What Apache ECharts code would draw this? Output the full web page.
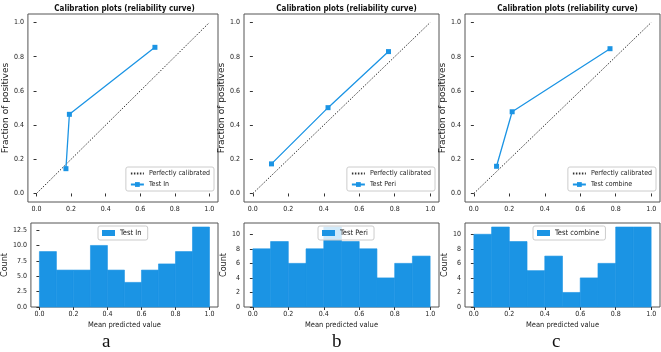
<!DOCTYPE html>
<html>
<head>
<meta charset="utf-8">
<script src="https://cdn.jsdelivr.net/npm/echarts@6/dist/echarts.min.js"></script>
<style>
  html, body { margin: 0; padding: 0; background: #fff; }
  #main { width: 661px; height: 352px; }
</style>
</head>
<body>
<div id="main"></div>
<script>
// calibration curves (mean predicted value, fraction of positives)
var curveNames = ['Test In', 'Test Peri', 'Test combine'];
var predIn = [0.17, 0.19, 0.685];
var fracIn = [0.145, 0.463, 0.855];
var predPeri = [0.105, 0.424, 0.765];
var fracPeri = [0.173, 0.502, 0.83];
var predComb = [0.128, 0.216, 0.768];
var fracComb = [0.159, 0.478, 0.847];
var diagX = [0, 1];

// histograms of predicted values
var binEdges = [0, 0.1, 0.2, 0.3, 0.4, 0.5, 0.6, 0.7, 0.8, 0.9, 1.0];
var countIn = [9, 6, 6, 10, 6, 4, 6, 7, 9, 13];
var countPeri = [8, 9, 6, 8, 11, 9, 8, 4, 6, 7];
var countComb = [10, 11, 9, 5, 7, 2, 4, 6, 11, 11];

var tickVals = [0, 0.2, 0.4, 0.6, 0.8, 1.0];
var countTicksA = [0, 2.5, 5, 7.5, 10, 12.5];
var countTicksB = [0, 2, 4, 6, 8, 10];
var panelLetters = ['a', 'b', 'c'];

var blue = '#1b94e4';
var frame = '#555';
var narrow = '"Liberation Sans Narrow", "DejaVu Sans Condensed", sans-serif';

var chart = echarts.init(document.getElementById('main'));

var panels = [
  { left: 21, width: 197, px: predIn, py: fracIn, counts: countIn, yTicks: countTicksA, yMax: 13.65, dec: 1,
    fracGap: 11, countGap: 17, histLeg: 98, letterX: 97 },
  { left: 244, width: 195, px: predPeri, py: fracPeri, counts: countPeri, yTicks: countTicksB, yMax: 11.55, dec: 0,
    fracGap: 14, countGap: 13, histLeg: 318, letterX: 327 },
  { left: 465, width: 195, px: predComb, py: fracComb, counts: countComb, yTicks: countTicksB, yMax: 11.55, dec: 0,
    fracGap: 15, countGap: 14, histLeg: 533, letterX: 547 }
];

function zip(a, b) {
  return a.map(function (v, i) { return [v, b[i]]; });
}

function histData(counts) {
  return counts.map(function (c, i) { return [binEdges[i], binEdges[i + 1], c]; });
}

function renderBin(params, api) {
  var p0 = api.coord([api.value(0), api.value(2)]);
  var p1 = api.coord([api.value(1), 0]);
  return {
    type: 'rect',
    shape: { x: p0[0], y: p0[1], width: p1[0] - p0[0], height: p1[1] - p0[1] },
    style: { fill: blue, stroke: blue, lineWidth: 0.6 }
  };
}

var tickLabel = { fontSize: 7, color: '#222', fontFamily: narrow, margin: 4 };
var tickStyle = { show: true, length: 3, lineStyle: { color: '#333' } };

var grid = [], xAxis = [], yAxis = [], series = [], legend = [], title = [];

panels.forEach(function (p, k) {
  var gTop = k * 2, gBot = k * 2 + 1;
  var cx = p.left + p.width / 2;
  grid.push({ left: p.left, top: 14, width: p.width, height: 188, show: true,
    borderColor: frame, borderWidth: 1, backgroundColor: '#fff' });
  grid.push({ left: p.left, top: 223, width: p.width, height: 84, show: true,
    borderColor: frame, borderWidth: 1, backgroundColor: '#fff' });

  [gTop, gBot].forEach(function (g) {
    xAxis.push({
      type: 'value', gridIndex: g, min: -0.05, max: 1.05,
      axisLine: { show: false }, splitLine: { show: false },
      axisTick: Object.assign({ customValues: tickVals }, tickStyle),
      axisLabel: Object.assign({ customValues: tickVals,
        formatter: function (v) { return v.toFixed(1); } }, tickLabel),
      name: g === gBot ? 'Mean predicted value' : '',
      nameLocation: 'middle', nameGap: 14,
      nameTextStyle: { fontSize: 7.5, color: '#222', fontFamily: narrow }
    });
  });

  yAxis.push({
    type: 'value', gridIndex: gTop, min: -0.05, max: 1.05,
    axisLine: { show: false }, splitLine: { show: false },
    axisTick: Object.assign({ customValues: tickVals }, tickStyle),
    axisLabel: Object.assign({ customValues: tickVals,
      formatter: function (v) { return v.toFixed(1); } }, tickLabel),
    name: 'Fraction of positives', nameLocation: 'middle', nameGap: p.fracGap,
    nameTextStyle: { fontSize: 9, color: '#222', fontFamily: 'DejaVu Sans' }
  });
  yAxis.push({
    type: 'value', gridIndex: gBot, min: 0, max: p.yMax,
    axisLine: { show: false }, splitLine: { show: false },
    axisTick: Object.assign({ customValues: p.yTicks }, tickStyle),
    axisLabel: Object.assign({ customValues: p.yTicks,
      formatter: function (v) { return v.toFixed(p.dec); } }, tickLabel),
    name: 'Count', nameLocation: 'middle', nameGap: p.countGap,
    nameTextStyle: { fontSize: 8, color: '#222', fontFamily: 'DejaVu Sans' }
  });

  series.push({
    type: 'line', name: 'Perfectly calibrated', xAxisIndex: gTop, yAxisIndex: gTop,
    data: zip(diagX, diagX), symbol: 'none', silent: true,
    itemStyle: { color: '#333' },
    lineStyle: { color: '#333', width: 1, type: [1.5, 1.5] }
  });
  series.push({
    type: 'line', name: curveNames[k], xAxisIndex: gTop, yAxisIndex: gTop,
    data: zip(p.px, p.py), symbol: 'rect', symbolSize: 5, showSymbol: true,
    itemStyle: { color: blue }, lineStyle: { color: blue, width: 1.3 }
  });
  series.push({
    type: 'custom', name: curveNames[k] + ' ', xAxisIndex: gBot, yAxisIndex: gBot,
    data: histData(p.counts), renderItem: renderBin,
    encode: { x: [0, 1], y: 2 }, itemStyle: { color: blue }
  });

  legend.push({
    orient: 'vertical', right: 661 - (p.left + p.width) + 4, top: 167,
    data: [
      { name: 'Perfectly calibrated', itemStyle: { opacity: 0 } },
      { name: curveNames[k] }
    ],
    itemWidth: 13, itemHeight: 6, itemGap: 4, padding: [3, 4],
    backgroundColor: 'rgba(255,255,255,0.8)', borderColor: '#ccc',
    borderWidth: 1, borderRadius: 2, selectedMode: false,
    textStyle: { fontSize: 7, color: '#222', fontFamily: narrow }
  });
  legend.push({
    left: p.histLeg, top: 226, orient: 'horizontal',
    data: [{ name: curveNames[k] + ' ', icon: 'rect' }],
    itemWidth: 13, itemHeight: 6, padding: [3, 4],
    backgroundColor: 'rgba(255,255,255,0.8)', borderColor: '#ccc',
    borderWidth: 1, borderRadius: 2, selectedMode: false,
    textStyle: { fontSize: 7.5, color: '#222', fontFamily: narrow }
  });

  title.push({
    text: 'Calibration plots (reliability curve)', left: cx, top: 0,
    textAlign: 'center',
    textStyle: { fontSize: 8, fontWeight: 'bold', color: '#111', fontFamily: narrow }
  });
  title.push({
    text: panelLetters[k], left: p.letterX, top: 328,
    textStyle: { fontSize: 19, fontWeight: 'normal', color: '#111',
      fontFamily: '"Liberation Serif", serif' }
  });
});

chart.setOption({
  animation: false,
  title: title,
  grid: grid,
  xAxis: xAxis,
  yAxis: yAxis,
  legend: legend,
  series: series
});
</script>
</body>
</html>
